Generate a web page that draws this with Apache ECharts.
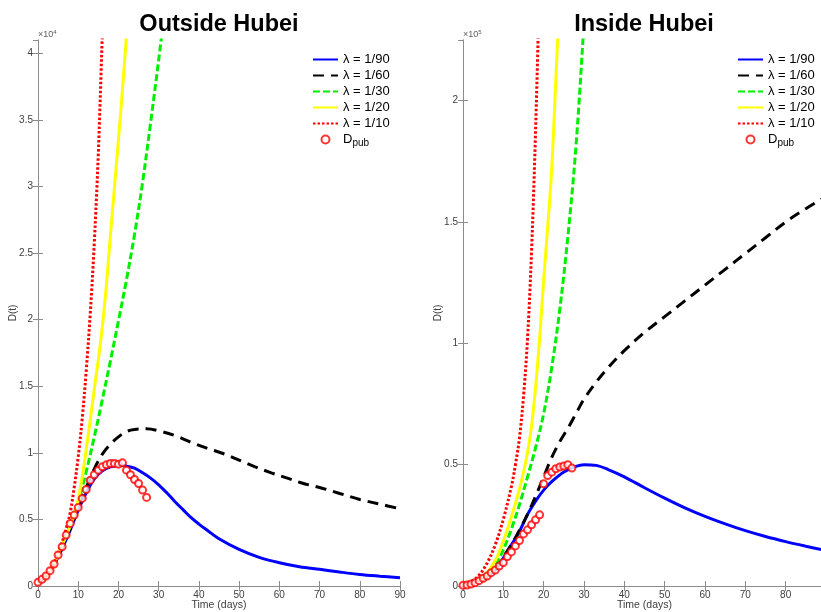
<!DOCTYPE html>
<html>
<head>
<meta charset="utf-8">
<script src="https://cdn.jsdelivr.net/npm/echarts@6/dist/echarts.min.js"></script>
<style>html,body{margin:0;padding:0;background:#fff}#c{width:821px;height:612px}</style>
</head>
<body>
<div id="c"></div>
<script>
// ---------- DATA ----------
const seriesNames = ['λ = 1/90', 'λ = 1/60', 'λ = 1/30', 'λ = 1/20', 'λ = 1/10', 'Dpub'];
const xTicks = [0, 10, 20, 30, 40, 50, 60, 70, 80, 90];

// Outside Hubei: [day, D(t)]
const out_l90 = [[0,250],[2,700],[4,1600],[6,2800],[8,4200],[10,5700],[12,7000],[14,8050],[16,8650],[18,8950],[20,9050],[21,9075],[22,9000],[24,8850],[26,8500],[28,8100],[30,7600],[32,7000],[34,6350],[36,5750],[38,5150],[40,4650],[42,4200],[45,3550],[50,2750],[55,2150],[60,1750],[65,1450],[70,1250],[75,1050],[80,870],[85,740],[90,625]];
const out_l60 = [[0,250],[2,700],[4,1600],[6,2850],[8,4300],[10,6000],[12,7400],[14,8800],[16,9900],[18,10650],[20,11200],[22,11600],[24,11750],[27,11800],[30,11650],[34,11300],[38,10800],[42,10350],[46,9950],[50,9450],[54,8950],[58,8500],[62,8100],[66,7700],[70,7400],[75,6950],[80,6500],[85,6150],[90,5800]];
const out_l30 = [[0,250],[2,700],[4,1650],[6,3000],[8,4600],[10,6300],[12,8600],[14,11200],[16,14000],[18,16900],[20,19900],[22,23000],[24,26400],[26,30300],[28,34800],[30,39500],[32,44500]];
const out_l20 = [[0,250],[2,700],[4,1700],[6,3100],[8,4500],[9,5300],[10,6500],[11,8200],[12,10300],[13,12500],[14,14800],[15,17000],[16,19500],[17,22600],[18,26300],[19,29900],[20,33500],[21,37300],[22,41300],[23,45000]];
const out_l10 = [[0,250],[2,750],[4,1750],[6,3300],[7,4300],[8,5500],[9,7400],[10,9700],[11,12600],[12,16200],[13,20500],[14,25800],[15,32500],[16,41500],[17,50000]];
const out_dpub = [275,500,750,1150,1650,2325,2950,3825,4700,5325,5900,6575,7250,7950,8350,8700,8950,9100,9200,9200,9150,9250,8700,8350,8000,7700,7200,6650];

// Inside Hubei: [day, D(t)]
const in_l90 = [[0,500],[3,1500],[5,3000],[8,6500],[10,11500],[12,17000],[14,22500],[16,29500],[18,35000],[20,39500],[22,43000],[25,47000],[28,49300],[30,50000],[33,49700],[36,48000],[40,45000],[45,40500],[50,36200],[55,32200],[60,28700],[65,25600],[70,22800],[75,20400],[80,18300],[85,16400],[90,14600]];
const in_l60 = [[0,500],[3,1500],[5,3000],[8,6800],[10,12000],[12,17000],[14,23000],[16,29500],[18,37000],[20,45000],[22,53000],[24,59500],[26,65000],[28,71000],[30,77000],[33,84000],[36,90000],[40,97000],[45,104500],[50,111000],[55,117500],[60,124000],[65,130500],[70,137000],[75,143500],[80,150000],[85,155500],[90,160500]];
const in_l30 = [[0,500],[3,1600],[5,3200],[8,8500],[10,15000],[12,23500],[14,33500],[16,45000],[18,57000],[20,71000],[22,90000],[24,114000],[26,144000],[28,181000],[30,232000],[31,260000]];
const in_l20 = [[0,500],[3,1700],[5,3500],[8,10500],[10,18500],[12,28500],[14,40000],[15,47000],[16,55000],[17,66000],[18,82000],[19,102000],[20,126000],[21,148000],[22,172000],[23,208000],[24,245000]];
const in_l10 = [[0,600],[2,1800],[4,4500],[6,9500],[8,17000],[10,27500],[12,41000],[13,50000],[14,61000],[15,78000],[16,102000],[17,138000],[18,188000],[19,250000]];
const in_dpub = [275,413,826,1377,2200,3170,4130,5510,6600,8260,9640,12120,14050,16520,18730,21480,23130,25200,27260,29330,42100,45500,46900,48300,49000,49400,50000,48600];

// ---------- STYLE ----------
const axisGray = '#8c8c8c';
const labelGray = '#404040';
const font = 'Liberation Sans, Arial, Helvetica, sans-serif';
const styles = [
  {color:'#0000ff', type:'solid'},
  {color:'#000000', type:[11,7]},
  {color:'#00ee00', type:[7,3]},
  {color:'#ffff00', type:'solid'},
  {color:'#ff0000', type:[2.5,2]}
];

function lineSeries(name, data, i, gi) {
  return {
    name: name, type: 'line', data: data, xAxisIndex: gi*2, yAxisIndex: gi*2,
    showSymbol: false, symbol: 'none', smooth: 0.35, clip: true, z: 2 + i,
    lineStyle: {color: styles[i].color, width: 3, type: styles[i].type},
    itemStyle: {color: styles[i].color}
  };
}
function dotSeries(vals, gi) {
  return {
    name: 'Dpub', type: 'scatter', xAxisIndex: gi*2, yAxisIndex: gi*2,
    data: vals.map((v, d) => [d, v]), symbol: 'circle', symbolSize: 7, z: 10,
    itemStyle: {color: '#ffffff', borderColor: '#ff0000', borderWidth: 2}
  };
}
function xAxisPair(gi) {
  const base = {type:'value', min:0, max:90, interval:10, gridIndex:gi,
    axisLine:{show:true, lineStyle:{color:axisGray, width:1}},
    axisTick:{show:true, inside:true, length:5, lineStyle:{color:axisGray}},
    splitLine:{show:false}};
  return [
    Object.assign({}, base, {position:'bottom',
      axisLabel:{color:labelGray, fontSize:10, fontFamily:font, margin:4},
      name:'Time (days)', nameLocation:'middle', nameGap:14, nameMoveOverlap:false,
      nameTextStyle:{color:labelGray, fontSize:10.5, fontFamily:font}}),
    Object.assign({}, base, {position:'top', axisLabel:{show:false}})
  ];
}
function yAxisPair(gi, max, interval, scale) {
  const base = {type:'value', min:0, max:max, interval:interval, gridIndex:gi,
    axisLine:{show:true, lineStyle:{color:axisGray, width:1}},
    axisTick:{show:true, inside:true, length:5, lineStyle:{color:axisGray}},
    splitLine:{show:false}};
  return [
    Object.assign({}, base, {position:'left',
      axisLabel:{color:labelGray, fontSize:10, fontFamily:font, margin:5, showMaxLabel:false,
        formatter: v => v === 0 ? '0' : String(+(v/scale).toFixed(2))},
      name:'D(t)', nameLocation:'middle', nameGap: 20, nameRotate:90, nameMoveOverlap:false,
      nameTextStyle:{color:labelGray, fontSize:10, fontFamily:font}}),
    Object.assign({}, base, {position:'right', axisLabel:{show:false}})
  ];
}
function legend(left) {
  return {
    left: left, top: 48, orient:'vertical', itemWidth: 25, itemHeight: 8, itemGap: 3,
    data: seriesNames.map(n => n === 'Dpub' ? {name:n} : {name:n, itemStyle:{opacity:0}}),
    selectedMode:false,
    formatter: n => n === 'Dpub' ? '{a|D}{b|pub}' : n,
    textStyle: {color:'#000', fontSize:13, fontFamily:font,
      rich:{a:{fontSize:13, fontFamily:font, color:'#000'}, b:{fontSize:10, fontFamily:font, color:'#000', padding:[8,0,0,0]}}}
  };
}

const series = [];
[out_l90, out_l60, out_l30, out_l20, out_l10].forEach((d,i) => series.push(lineSeries(seriesNames[i], d, i, 0)));
series.push(dotSeries(out_dpub, 0));
[in_l90, in_l60, in_l30, in_l20, in_l10].forEach((d,i) => series.push(lineSeries(seriesNames[i], d, i, 1)));
series.push(dotSeries(in_dpub, 1));

const chart = echarts.init(document.getElementById('c'), null, {renderer:'canvas'});
chart.setOption({
  animation: false,
  backgroundColor: '#ffffff',
  title: [
    {text:'Outside Hubei', left: 214, top: 8, textAlign:'center',
      textStyle:{fontSize:23.5, fontWeight:'bold', fontFamily:font, color:'#000'}},
    {text:'Inside Hubei', left: 639, top: 8, textAlign:'center',
      textStyle:{fontSize:23.5, fontWeight:'bold', fontFamily:font, color:'#000'}}
  ],
  grid: [
    {left:38, top:40, width:362, height:546, outerBoundsMode:'none', containLabel:false},
    {left:463, top:40, width:363, height:546, outerBoundsMode:'none', containLabel:false}
  ],
  xAxis: [...xAxisPair(0), ...xAxisPair(1)],
  yAxis: [...yAxisPair(0, 41000, 5000, 1e4), ...yAxisPair(1, 225000, 50000, 1e5)],
  legend: [legend(307), legend(732)],
  graphic: [
    {type:'text', left:38, top:29, style:{text:'{a|×10}{b|4}', rich:{a:{fontSize:9, fill:'#606060', fontFamily:font}, b:{fontSize:6, fill:'#606060', fontFamily:font, padding:[0,0,5,0]}}}},
    {type:'text', left:463, top:29, style:{text:'{a|×10}{b|5}', rich:{a:{fontSize:9, fill:'#606060', fontFamily:font}, b:{fontSize:6, fill:'#606060', fontFamily:font, padding:[0,0,5,0]}}}}
  ],
  series: series
});
</script>
</body>
</html>
